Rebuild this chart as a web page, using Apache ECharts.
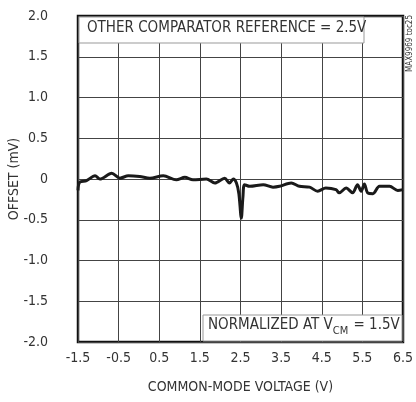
<!DOCTYPE html>
<html><head><meta charset="utf-8">
<script src="https://cdn.jsdelivr.net/npm/echarts@6/dist/echarts.min.js"></script>
<style>html,body{margin:0;padding:0;background:#fff}#c{width:416px;height:402px}</style>
</head><body><div id="c"></div>
<script>
const voltage = [-1.5,-1.46,-1.29,-1.08,-0.96,-0.67,-0.47,-0.26,0.02,0.27,0.6,0.92,1.13,1.33,1.66,1.87,2.11,2.23,2.32,2.4,2.46,2.52,2.56,2.6,2.73,3.06,3.3,3.46,3.75,3.95,4.2,4.4,4.6,4.85,4.93,5.1,5.26,5.38,5.47,5.55,5.63,5.76,5.92,6.17,6.37,6.5];
const offset  = [-0.14,-0.04,-0.02,0.04,0.0,0.07,0.01,0.04,0.03,0.01,0.04,-0.01,0.02,-0.01,0.0,-0.05,0.01,-0.05,0.0,-0.05,-0.18,-0.48,-0.22,-0.07,-0.09,-0.07,-0.1,-0.09,-0.05,-0.09,-0.1,-0.15,-0.11,-0.13,-0.17,-0.11,-0.17,-0.07,-0.15,-0.06,-0.17,-0.18,-0.09,-0.09,-0.14,-0.13];
const xTicks = ['-1.5','-0.5','0.5','1.5','2.5','3.5','4.5','5.5','6.5'];
const yTicks = ['-2.0','-1.5','-1.0','-0.5','0','0.5','1.0','1.5','2.0'];
const FONT = '"Liberation Sans Narrow","DejaVu Sans Condensed","Roboto",sans-serif';
const chart = echarts.init(document.getElementById('c'));
chart.setOption({
  animation:false,
  grid:{left:78,right:13,top:16,bottom:60,show:true,borderColor:'#111',borderWidth:2.5,backgroundColor:'#fff',containLabel:false,outerBoundsMode:'none'},
  xAxis:{type:'value',min:-1.5,max:6.5,interval:1,
    name:'COMMON-MODE VOLTAGE (V)',nameLocation:'middle',nameGap:38,nameMoveOverlap:false,
    nameTextStyle:{fontFamily:FONT,fontSize:14,color:'#333'},
    axisLine:{show:false},axisTick:{show:false},
    axisLabel:{fontFamily:FONT,fontSize:14,color:'#333',margin:9,formatter:v=>xTicks[Math.round(v+1.5)]},
    splitLine:{show:true,lineStyle:{color:'#444',width:1}}},
  yAxis:{type:'value',min:-2,max:2,interval:0.5,
    name:'OFFSET (mV)',nameLocation:'middle',nameGap:57,nameRotate:90,nameMoveOverlap:false,
    nameTextStyle:{fontFamily:FONT,fontSize:14,color:'#333'},
    axisLine:{show:false},axisTick:{show:false},
    axisLabel:{fontFamily:FONT,fontSize:14,color:'#333',margin:30,align:'right',formatter:v=>yTicks[Math.round((v+2)*2)]},
    splitLine:{show:true,lineStyle:{color:'#444',width:1}}},
  series:[{type:'line',data:voltage.map((v,i)=>[v,offset[i]]),showSymbol:false,smooth:0.3,
    lineStyle:{color:'#1a1a1a',width:3},z:5}],
  graphic:[
    {type:'rect',x:79,y:17,shape:{width:285,height:26},style:{fill:'#fff',stroke:'#999',lineWidth:1},z:10},
    {type:'text',x:87,y:21,style:{text:'OTHER COMPARATOR REFERENCE = 2.5V',font:'15px '+FONT,fill:'#333'},z:11},
    {type:'rect',x:203,y:315,shape:{width:199,height:26},style:{fill:'#fff',stroke:'#999',lineWidth:1},z:10},
    {type:'text',x:208,y:318,style:{text:'{a|NORMALIZED AT V}{s|CM}{a| = 1.5V}',
      rich:{a:{font:'15px '+FONT,fill:'#333',verticalAlign:'top'},s:{font:'11px '+FONT,fill:'#333',padding:[8,1,0,0]}}},z:11},
    {type:'text',x:406,y:72,rotation:Math.PI/2,
      style:{text:'MAX9969 toc25',font:'8px '+FONT,fill:'#333'},z:11}
  ]
});
</script></body></html>
